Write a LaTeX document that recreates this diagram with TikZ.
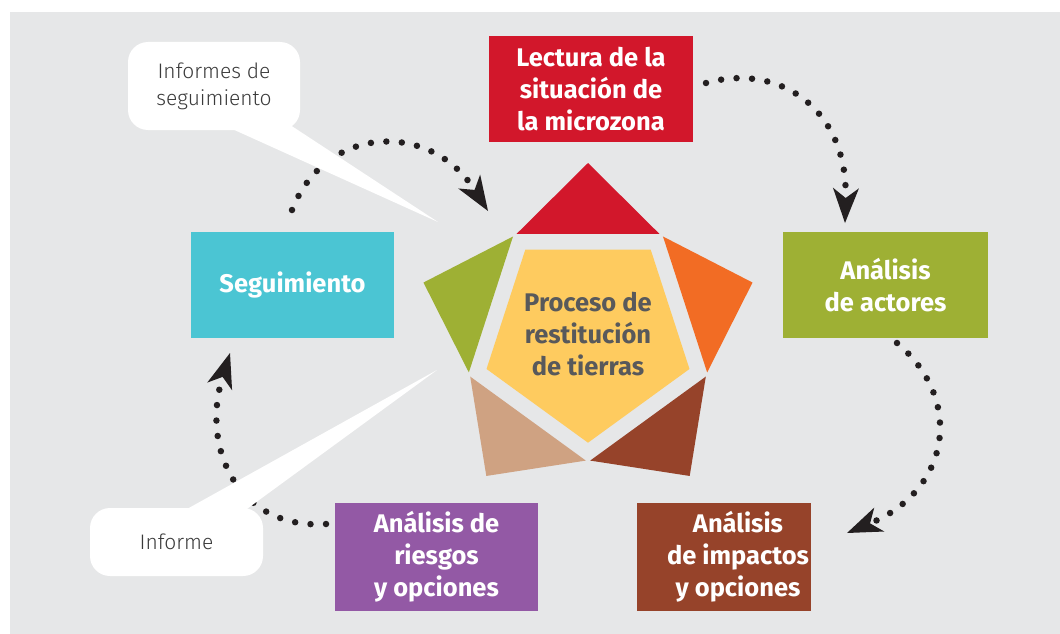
\documentclass[tikz,border=0pt]{standalone}
\usepackage{fontspec}
\setmainfont{Fira Sans}
\newfontfamily\lightfont{Fira Sans Light}
\usetikzlibrary{arrows.meta,calc}
\definecolor{bg}{HTML}{E6E7E8}
\definecolor{cred}{HTML}{D2172B}
\definecolor{corange}{HTML}{F26C24}
\definecolor{cbrown}{HTML}{96432A}
\definecolor{ctan}{HTML}{CFA282}
\definecolor{cgreen}{HTML}{9EB034}
\definecolor{cyellow}{HTML}{FECB5F}
\definecolor{ccyan}{HTML}{4BC5D3}
\definecolor{cpurple}{HTML}{9359A5}
\definecolor{ctext}{HTML}{58595B}
\definecolor{cdot}{HTML}{231F20}
\definecolor{ccall}{HTML}{3A3A3A}
\begin{document}
\begin{tikzpicture}[x=1pt,y=-1pt,
  box/.style={inner sep=0pt, align=center, text=white,
    font=\bfseries\fontsize{25.5}{32}\selectfont},
  boxtext/.style={inner sep=0pt, align=center, text=white,
    font=\bfseries\fontsize{25.5}{32}\selectfont},
  centertext/.style={inner sep=0pt, align=center, text=ctext,
    font=\bfseries\fontsize{25.5}{32}\selectfont},
  callout/.style={fill=white, rounded corners=20pt, align=center, text=ccall,
    font=\lightfont\fontsize{21}{27}\selectfont, inner sep=0pt},
  dots/.style={draw=cdot, line width=6.5pt, line cap=round,
    dash pattern=on 0pt off 15.5pt,
    -{Stealth[length=35pt,width=26pt,inset=10pt,line width=0pt]}}
]
\useasboundingbox (0,0) rectangle (1060,634);
\fill[white] (0,0) rectangle (1060,634);
\fill[bg] (10,12) rectangle (1060,634);

% pentagon (y axis points down, so visual angles are negated)
\coordinate (c) at (588,336);
\foreach \a/\col in {-90/cred, -18/corange, 54/cbrown, 126/ctan, -162/cgreen}
  \fill[\col] ($(c)+(\a:173)$) -- ($(c)+(\a+35:124.6)$) -- ($(c)+(\a-35:124.6)$) -- cycle;
\fill[cyellow] ($(c)+(-54:106.7)$) -- ($(c)+(-126:106.7)$) -- ($(c)+(-198:106.7)$)
  -- ($(c)+(-270:106.7)$) -- ($(c)+(-342:106.7)$) -- cycle;
\node[centertext] (proceso) at (588,334) {Proceso de\\restitución\\de tierras};

% boxes
\node[box, fill=cred, minimum width=204pt, minimum height=106pt] (lectura) at (591,89)
  {Lectura de la\\situación de\\la microzona};
\node[box, fill=cgreen, minimum width=205pt, minimum height=106pt] (actores) at (885.5,285)
  {Análisis\\de actores};
\node[box, fill=cbrown, minimum width=174pt, minimum height=108pt] (impactos) at (724,557) {};
\node[boxtext] (impactostext) at (738,557) {Análisis\\de impactos\\y opciones};
\node[box, fill=cpurple, minimum width=203pt, minimum height=108pt] (riesgos) at (436.5,557)
  {Análisis de\\riesgos\\y opciones};
\node[box, fill=ccyan, minimum width=203pt, minimum height=106pt] (seg) at (292.5,285)
  {Seguimiento};

% dotted arrows
\coordinate (a1s) at (292,210); \coordinate (a1e) at (488,211);
\coordinate (a2s) at (706,83);  \coordinate (a2e) at (845,223);
\coordinate (a3s) at (897,343); \coordinate (a3e) at (847,533);
\coordinate (a4s) at (326,524); \coordinate (a4e) at (230,353);
\draw[dots] (a1s) .. controls (325,125) and (430,120) .. (a1e);
\draw[dots] (a2s) .. controls (780,62) and (848,110) .. (a2e);
\draw[dots] (a3s) .. controls (965,400) and (950,490) .. (a3e);
\draw[dots] (a4s) .. controls (240,530) and (200,450) .. (a4e);

% callouts
\node[callout, minimum width=172pt, minimum height=88pt] (c1) at (214,86)
  {Informes de\\seguimiento};
\coordinate (t1) at (438,222);
\fill[white] ([xshift=12pt,yshift=4pt]c1.south) -- (t1) -- ([xshift=78pt,yshift=4pt]c1.south) -- cycle;
\node[callout, minimum width=173pt, minimum height=68pt] (c2) at (176.5,542) {Informe};
\coordinate (t2) at (437,370);
\fill[white] ([xshift=5.5pt,yshift=-4pt]c2.north) -- (t2) -- ([xshift=66.5pt,yshift=-4pt]c2.north) -- cycle;
\end{tikzpicture}
\end{document}
